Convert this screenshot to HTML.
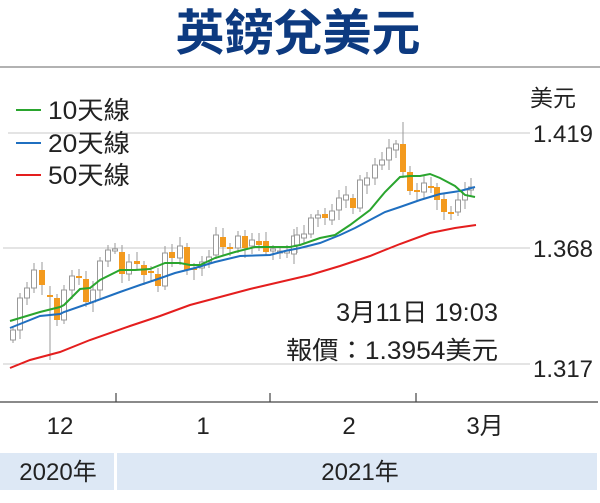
<!DOCTYPE html>
<html><head><meta charset="utf-8"><style>
body{margin:0;background:#fff;width:600px;height:498px;overflow:hidden}
</style></head><body>
<svg width="600" height="498" viewBox="0 0 600 498" xmlns="http://www.w3.org/2000/svg" font-family="Liberation Sans, Noto Sans CJK TC, sans-serif">
<text x="298" y="50" text-anchor="middle" font-size="49" font-weight="bold" fill="#0d3a80" font-family="Noto Sans CJK TC, sans-serif">英鎊兌美元</text>
<line x1="0" y1="67" x2="600" y2="67" stroke="#999" stroke-width="1.5"/>
<text x="530" y="106" font-size="23" fill="#222">美元</text>
<g stroke="#c8c8c8" stroke-width="1">
<line x1="8" y1="133" x2="530" y2="133"/>
<line x1="3" y1="248" x2="530" y2="248"/>
<line x1="3" y1="364" x2="530" y2="364"/>
</g>
<g font-size="24" fill="#222">
<text x="533" y="142" textLength="60" lengthAdjust="spacingAndGlyphs">1.419</text>
<text x="533" y="257" textLength="60" lengthAdjust="spacingAndGlyphs">1.368</text>
<text x="533" y="377" textLength="60" lengthAdjust="spacingAndGlyphs">1.317</text>
</g>
<g font-size="25" fill="#222">
<line x1="16" y1="110" x2="41" y2="110" stroke="#2aa52e" stroke-width="2"/><text x="48" y="119" textLength="82" lengthAdjust="spacingAndGlyphs">10天線</text>
<line x1="16" y1="143" x2="41" y2="143" stroke="#1f6fc0" stroke-width="2"/><text x="48" y="152" textLength="82" lengthAdjust="spacingAndGlyphs">20天線</text>
<line x1="16" y1="175" x2="41" y2="175" stroke="#e41e1e" stroke-width="2"/><text x="48" y="184" textLength="82" lengthAdjust="spacingAndGlyphs">50天線</text>
</g>
<g id="c"></g>
<polyline fill="none" stroke="#e41e1e" stroke-width="2" points="10,368 30,360 60,352 90,340 130,326 160,316 190,305 220,297 250,289 280,282 310,275 340,266 370,256 400,244 430,233 455,228 476,225"/>
<polyline fill="none" stroke="#1f6fc0" stroke-width="2" points="10,328 40,316 60,314 64,312 90,303 120,292 140,285 155,280 175,273 195,268 215,262 240,256 270,255 285,251 300,248 320,243 340,235 355,228 370,220 385,212 400,207 420,200 440,194 460,191 475,187"/>
<polyline fill="none" stroke="#2aa52e" stroke-width="2" points="10,321 40,312 60,307 64,305 80,289 90,288 100,280 120,270 135,270 150,269 165,263 180,263 190,265 200,265 215,258 235,252 255,247 270,247 290,247 300,245 320,238 335,235 350,225 370,210 385,192 400,177 410,176 420,176 430,174 440,178 455,186 465,195 475,197"/>
<g font-size="25" fill="#222">
<text x="336" y="321" textLength="162" lengthAdjust="spacingAndGlyphs">3月11日 19:03</text>
<text x="286" y="359" textLength="212" lengthAdjust="spacingAndGlyphs">報價：1.3954美元</text>
</g>
<line x1="0" y1="402" x2="598" y2="402" stroke="#444" stroke-width="1.2"/>
<g stroke="#444" stroke-width="1.2"><line x1="116" y1="393" x2="116" y2="402"/><line x1="270" y1="393" x2="270" y2="402"/><line x1="416" y1="393" x2="416" y2="402"/></g>
<g font-size="24" fill="#222" text-anchor="middle">
<text x="60" y="434">12</text><text x="203" y="434">1</text><text x="349" y="434">2</text><text x="485" y="434">3月</text>
</g>
<rect x="0" y="453" width="114" height="37" fill="#dde8f5"/>
<rect x="117" y="453" width="480" height="37" fill="#dde8f5"/>
<g font-size="24" fill="#222" text-anchor="middle">
<text x="58" y="480">2020年</text><text x="360" y="480">2021年</text>
</g>
</svg>
<script>
var d=[[13,340,330],[20,330,298],[27,298,288],[34,288,270],[42,270,285],[50,295,297],[57,298,320],[64,320,290],[72,290,276],[79,276,278],[86,279,302],[93,302,290],[100,290,261],[108,261,250],[115,250,249],[122,252,274],[129,274,262],[137,261,264],[144,265,275],[151,271,273],[158,274,286],[165,286,253],[172,252,258],[180,258,246],[187,247,270],[194,268,270],[202,268,262],[209,262,257],[216,255,235],[223,237,247],[230,247,249],[238,248,236],[245,236,248],[252,246,240],[259,241,245],[266,241,252],[273,251,249],[280,252,251],[287,253,251],[294,254,236],[297,245,235],[304,238,234],[311,234,218],[318,218,215],[325,214,218],[332,220,211],[339,210,198],[346,200,195],[353,198,208],[360,208,180],[367,185,178],[375,178,165],[382,165,160],[389,160,148],[396,150,144],[403,144,172],[410,172,191],[417,190,192],[424,192,183],[431,186,188],[437,187,200],[444,199,212],[451,212,214],[458,212,200],[465,200,190],[471,190,187]];
var g=document.getElementById('c'),s='';
d.forEach(function(c,i){var x=c[0],o=c[1],cl=c[2],t=Math.min(o,cl),b=Math.max(o,cl),h=Math.max(b-t,2);
var hi=t-4-(i*7%6),lo=b+4+(i*5%7);if(i==5)lo=360;if(i==0)lo=b+3;if(i==55)hi=122;
s+='<line x1="'+x+'" y1="'+hi+'" x2="'+x+'" y2="'+lo+'" stroke="#999" stroke-width="1"/>';
if(cl<o)s+='<rect x="'+(x-2.5)+'" y="'+t+'" width="5" height="'+h+'" fill="#fff" stroke="#999" stroke-width="1"/>';
else s+='<rect x="'+(x-3)+'" y="'+t+'" width="6" height="'+h+'" fill="#f39a1e"/>';});
g.innerHTML=s;
</script>
</body></html>
